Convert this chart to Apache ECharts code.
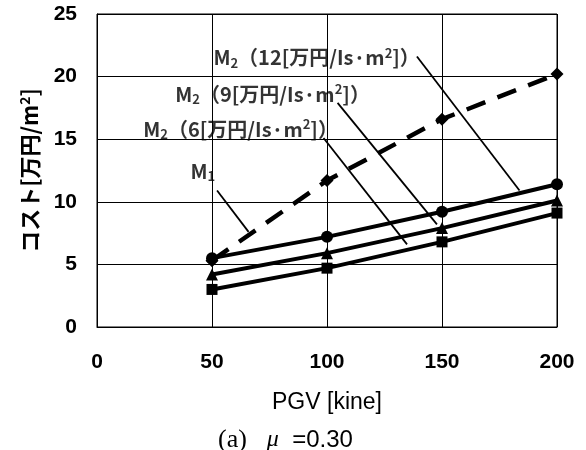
<!DOCTYPE html>
<html>
<head>
<meta charset="utf-8">
<script src="https://cdn.jsdelivr.net/npm/echarts@6/dist/echarts.min.js"></script>
<style>
  html, body { margin: 0; padding: 0; background: #fff; }
  #chart { width: 586px; height: 450px; }
</style>
</head>
<body>
<div id="chart"></div>
<script>
// PGV (kine)
const pgv = [50, 100, 150, 200];
// コスト (万円/m2)
const costM1 = [5.3, 11.7, 16.6, 20.2];
const costM2_12 = [5.5, 7.2, 9.2, 11.4];
const costM2_9 = [4.2, 5.9, 7.9, 10.1];
const costM2_6 = [3.0, 4.7, 6.8, 9.1];

const xTicks = [0, 50, 100, 150, 200];
const yTicks = [0, 5, 10, 15, 20, 25];

// 注記 (label text, label anchor, leader start, leader end) in data coords
const noteTexts = [
  'M{sub|2}（12[万円/Is·m{sup|2}]）',
  'M{sub|2}（9[万円/Is·m{sup|2}]）',
  'M{sub|2}（6[万円/Is·m{sup|2}]）',
  'M{sub|1}'
];
const noteAnchors = [[50.6, 21.5], [34.0, 18.6], [20.1, 15.8], [40.6, 12.4]];
const leaderFrom = [[139.1, 21.6], [104.6, 17.9], [98.5, 15.1], [52.2, 10.9]];
const leaderTo = [[183.7, 10.9], [147.8, 8.2], [134.8, 6.6], [65.9, 7.6]];

const pair = ys => pgv.map((x, i) => [x, ys[i]]);

const chart = echarts.init(document.getElementById('chart'));

const tickFont = { color: '#000', fontSize: 21, fontWeight: 'bold', fontFamily: 'Liberation Sans, Arial, sans-serif' };
const noteRich = {
  sub: { fontSize: 13, fontWeight: 'bold', fontFamily: 'Noto Sans CJK JP', verticalAlign: 'bottom', padding: [8, 0, 0, 0], color: '#000' },
  sup: { fontSize: 13, fontWeight: 'bold', fontFamily: 'Noto Sans CJK JP', padding: [0, 0, 10, 0], color: '#000' }
};

const solid = (data, symbol, size) => ({
  type: 'line', data: pair(data), symbol, symbolSize: size,
  lineStyle: { color: '#000', width: 4 },
  itemStyle: { color: '#000' },
  silent: true
});

chart.setOption({
  animation: false,
  backgroundColor: '#fff',
  title: {
    text: '{s|(a)}   {mu|μ}  =0.30',
    left: 213, top: 422,
    textStyle: {
      color: '#000', fontSize: 24, fontWeight: 'normal', fontFamily: 'Liberation Sans, Arial, sans-serif',
      rich: {
        s: { fontSize: 26, fontFamily: 'Liberation Serif, serif', color: '#000' },
        mu: { fontSize: 24, fontStyle: 'italic', fontFamily: 'Liberation Serif, serif', color: '#000' }
      }
    }
  },
  grid: { left: 97, right: 29, top: 14, bottom: 123, show: true, borderColor: '#000', borderWidth: 1 },
  xAxis: {
    type: 'value', min: xTicks[0], max: xTicks[xTicks.length - 1], interval: 50,
    name: 'PGV [kine]', nameLocation: 'middle', nameGap: 64,
    nameTextStyle: { color: '#000', fontSize: 23, fontFamily: 'Liberation Sans, Arial, sans-serif' },
    axisLine: { lineStyle: { color: '#000', width: 1 } },
    axisTick: { show: false },
    axisLabel: Object.assign({ margin: 25 }, tickFont),
    splitLine: { show: true, lineStyle: { color: '#000', width: 1 } }
  },
  yAxis: {
    type: 'value', min: yTicks[0], max: yTicks[yTicks.length - 1], interval: 5,
    name: 'コスト[万円/m{sup|2}]', nameLocation: 'middle', nameGap: 55,
    nameTextStyle: {
      color: '#000', fontSize: 22, fontWeight: 'bold', fontFamily: 'Noto Sans CJK JP',
      rich: { sup: { fontSize: 14, fontWeight: 'bold', color: '#000', fontFamily: 'Noto Sans CJK JP', padding: [0, 0, 10, 0] } }
    },
    axisLine: { lineStyle: { color: '#000', width: 1 } },
    axisTick: { show: false },
    axisLabel: Object.assign({ margin: 20 }, tickFont),
    splitLine: { show: true, lineStyle: { color: '#000', width: 1 } }
  },
  series: [
    {
      type: 'lines', coordinateSystem: 'cartesian2d', silent: true,
      lineStyle: { color: '#000', width: 1.8, opacity: 1 },
      data: leaderFrom.map((p, i) => ({ coords: [p, leaderTo[i]] }))
    },
    {
      type: 'line', data: pair(costM1), symbol: 'diamond', symbolSize: 13,
      lineStyle: { color: '#000', width: 4.5, type: [20, 13] },
      itemStyle: { color: '#000' },
      silent: true
    },
    solid(costM2_6, 'rect', 11),
    solid(costM2_9, 'triangle', 12),
    solid(costM2_12, 'circle', 12),
    {
      type: 'scatter', symbolSize: 0, silent: true,
      data: noteAnchors.map((p, i) => ({ value: p, name: noteTexts[i] })),
      label: {
        show: true, position: 'right', distance: 0,
        formatter: p => p.name,
        color: '#000', fontSize: 20, fontWeight: 'bold', fontFamily: 'Noto Sans CJK JP',
        rich: noteRich
      }
    }
  ]
});
</script>
</body>
</html>
